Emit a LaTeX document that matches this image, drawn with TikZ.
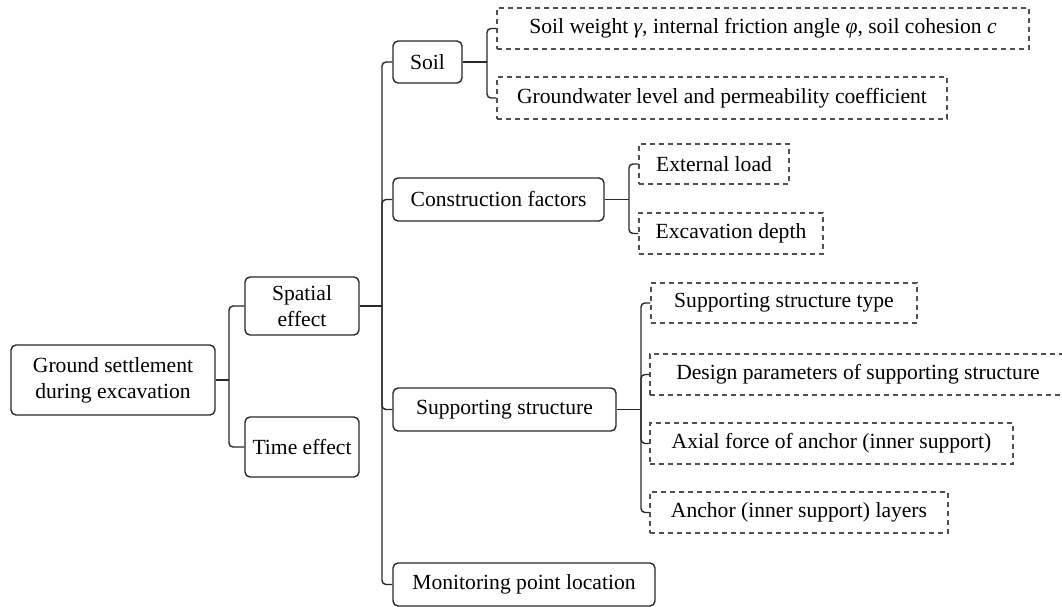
\documentclass[tikz,border=0pt]{standalone}
\usepackage{fontspec}
\setmainfont{Liberation Serif}
\usetikzlibrary{positioning}
\definecolor{settleLine}{RGB}{40, 40, 40}
\definecolor{settleDash}{RGB}{80, 80, 80}

\begin{document}
\begin{tikzpicture}[
  x=1pt, y=-1pt,
  box/.style={
    draw=settleLine,
    line width=1.4pt,
    rounded corners=5pt,
    fill=white,
    inner sep=0pt,
    align=center,
    font=\fontsize{21.6}{26}\selectfont
  },
  dbox/.style={
    draw=settleDash,
    line width=1.3pt,
    dash pattern=on 5pt off 4pt,
    fill=white,
    inner sep=0pt,
    align=center,
    font=\fontsize{21.6}{26}\selectfont
  },
  link/.style={settleLine,line width=1.4pt,rounded corners=4pt}
]
  \useasboundingbox (0,0) rectangle (1062,607);

  % main nodes
  \node[box,minimum width=204pt,minimum height=70pt] (ground) at (113,380)
    {Ground settlement\\during excavation};
  \node[box,minimum width=114pt,minimum height=58pt] (spatial) at (302,306)
    {Spatial\\effect};
  \node[box,minimum width=114pt,minimum height=60pt] (time) at (302,447)
    {Time effect};

  \node[box,minimum width=69pt,minimum height=42pt] (soil) at (427.5,62) {Soil};
  \node[box,minimum width=211pt,minimum height=43pt] (construction) at (498.5,199.5)
    {Construction factors};
  \node[box,minimum width=223pt,minimum height=43pt] (support) at (504.5,409.5)
    {Supporting structure};
  \node[box,minimum width=262pt,minimum height=43pt] (monitor) at (524,584.5)
    {Monitoring point location};

  % factor nodes
  \node[dbox,minimum width=532pt,minimum height=41pt] (soilpar) at (763,28.5)
    {Soil weight \textit{γ}, internal friction angle \textit{φ}, soil cohesion \textit{c}};
  \node[dbox,minimum width=450pt,minimum height=42pt] (water) at (722,98)
    {Groundwater level and permeability coefficient};
  \node[dbox,minimum width=150pt,minimum height=40pt] (load) at (714,164)
    {External load};
  \node[dbox,minimum width=184pt,minimum height=41pt] (depth) at (731,233.5)
    {Excavation depth};
  \node[dbox,minimum width=266pt,minimum height=40pt] (stype) at (784,303)
    {Supporting structure type};
  \node[dbox,minimum width=416pt,minimum height=41pt] (design) at (858,374.5)
    {Design parameters of supporting structure};
  \node[dbox,minimum width=363pt,minimum height=41pt] (axial) at (831.5,443.5)
    {Axial force of anchor (inner support)};
  \node[dbox,minimum width=298pt,minimum height=41pt] (layers) at (799,512.5)
    {Anchor (inner support) layers};

  % buses
  \coordinate (bground) at (229,0);
  \coordinate (bspatial) at (382,0);
  \coordinate (bsoil) at (487,0);
  \coordinate (bconstr) at (629,0);
  \coordinate (bsupport) at (641,0);

  \draw[link] (ground.east) -- (ground.east -| bground);
  \foreach \n in {spatial,time}
    \draw[link] (ground.east -| bground) |- (\n.west);

  \draw[link] (spatial.east) -- (spatial.east -| bspatial);
  \foreach \n in {soil,construction,support,monitor}
    \draw[link] (spatial.east -| bspatial) |- (\n.west);

  \draw[link] (soil.east) -- (soil.east -| bsoil);
  \foreach \n in {soilpar,water}
    \draw[link] (soil.east -| bsoil) |- (\n.west);

  \draw[link] (construction.east) -- (construction.east -| bconstr);
  \foreach \n in {load,depth}
    \draw[link] (construction.east -| bconstr) |- (\n.west);

  \draw[link] (support.east) -- (support.east -| bsupport);
  \foreach \n in {stype,design,axial,layers}
    \draw[link] (support.east -| bsupport) |- (\n.west);
\end{tikzpicture}
\end{document}
